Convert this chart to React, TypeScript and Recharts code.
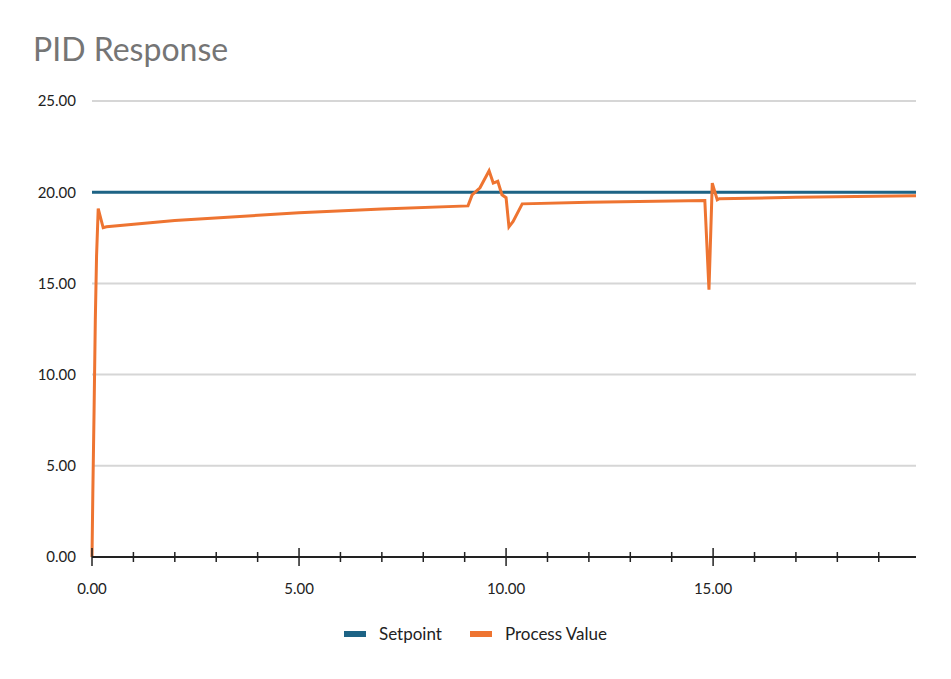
import React from 'react';
import { LineChart, Line, XAxis, YAxis, CartesianGrid, Legend } from 'recharts';

const timeValues = [0, 0.02, 0.05, 0.08, 0.11, 0.15, 0.27, 0.35, 2, 5, 7, 9.08, 9.18, 9.37, 9.59, 9.69, 9.8, 9.9, 10.0, 10.07, 10.17, 10.39, 12, 14.8, 14.9, 14.98, 15.1, 15.15, 17, 19.9];
const processValues = [0, 3.5, 8, 13, 16.5, 19.1, 18.05, 18.1, 18.45, 18.87, 19.08, 19.25, 19.85, 20.24, 21.17, 20.5, 20.6, 19.86, 19.7, 18.1, 18.4, 19.36, 19.45, 19.55, 14.66, 20.5, 19.58, 19.64, 19.72, 19.8];
const setpoint = 20;
const xTicks = Array.from({ length: 20 }, (_, i) => i);
const yTicks = [0, 5, 10, 15, 20, 25];

const data = timeValues.map((t, i) => ({ t, sp: setpoint, pv: processValues[i] }));

const FONT = 'Lato, "Open Sans", sans-serif';

const XTick = (props: any) => {
  const { x, y, payload } = props;
  const major = payload.value % 5 === 0;
  return (
    <g>
      <line x1={x} x2={x} y1={y - (major ? 9 : 5)} y2={y + (major ? 9 : 5)} stroke="#222" strokeWidth={1.5} />
      {major && (
        <text x={x} y={y + 37} textAnchor="middle" fontSize={15} fill="#222" fontFamily={FONT}>
          {payload.value.toFixed(2)}
        </text>
      )}
    </g>
  );
};

const LegendContent = () => (
  <div style={{ display: 'flex', justifyContent: 'center', gap: 28, fontFamily: FONT, fontSize: 17, color: '#222' }}>
    {[['Setpoint', '#1d6385'], ['Process Value', '#ee7431']].map(([n, c]) => (
      <div key={n} style={{ display: 'flex', alignItems: 'center' }}>
        <span style={{ display: 'inline-block', width: 22, height: 6, background: c, marginRight: 13 }} />
        {n}
      </div>
    ))}
  </div>
);

export default function App() {
  return (
    <div style={{ position: 'absolute', left: 0, top: 0, width: 951, height: 679, background: '#fff' }}>
      <div style={{ position: 'absolute', left: 33, top: 29, fontFamily: FONT, fontSize: 32, color: '#757575' }}>PID Response</div>
      <LineChart width={951} height={679} data={data} margin={{ top: 101, right: 35, left: 0, bottom: 71 }}>
        <CartesianGrid vertical={false} stroke="#d6d6d6" strokeWidth={2} />
        <XAxis dataKey="t" type="number" domain={[0, 19.9]} ticks={xTicks} interval={0} tick={<XTick />} tickLine={false} tickSize={0} tickMargin={0} height={30} stroke="#222" strokeWidth={2} />
        <YAxis domain={[0, 25]} ticks={yTicks} width={92} axisLine={false} tickLine={false} tickMargin={10} tickFormatter={(v: number) => v.toFixed(2)} tick={{ fontSize: 15, fill: '#222', fontFamily: FONT }} />
        <Legend content={<LegendContent />} wrapperStyle={{ top: 623, left: 0, width: 951 }} />
        <Line dataKey="sp" stroke="#1d6385" strokeWidth={3} dot={false} isAnimationActive={false} />
        <Line dataKey="pv" stroke="#ee7431" strokeWidth={3} dot={false} isAnimationActive={false} />
      </LineChart>
    </div>
  );
}
